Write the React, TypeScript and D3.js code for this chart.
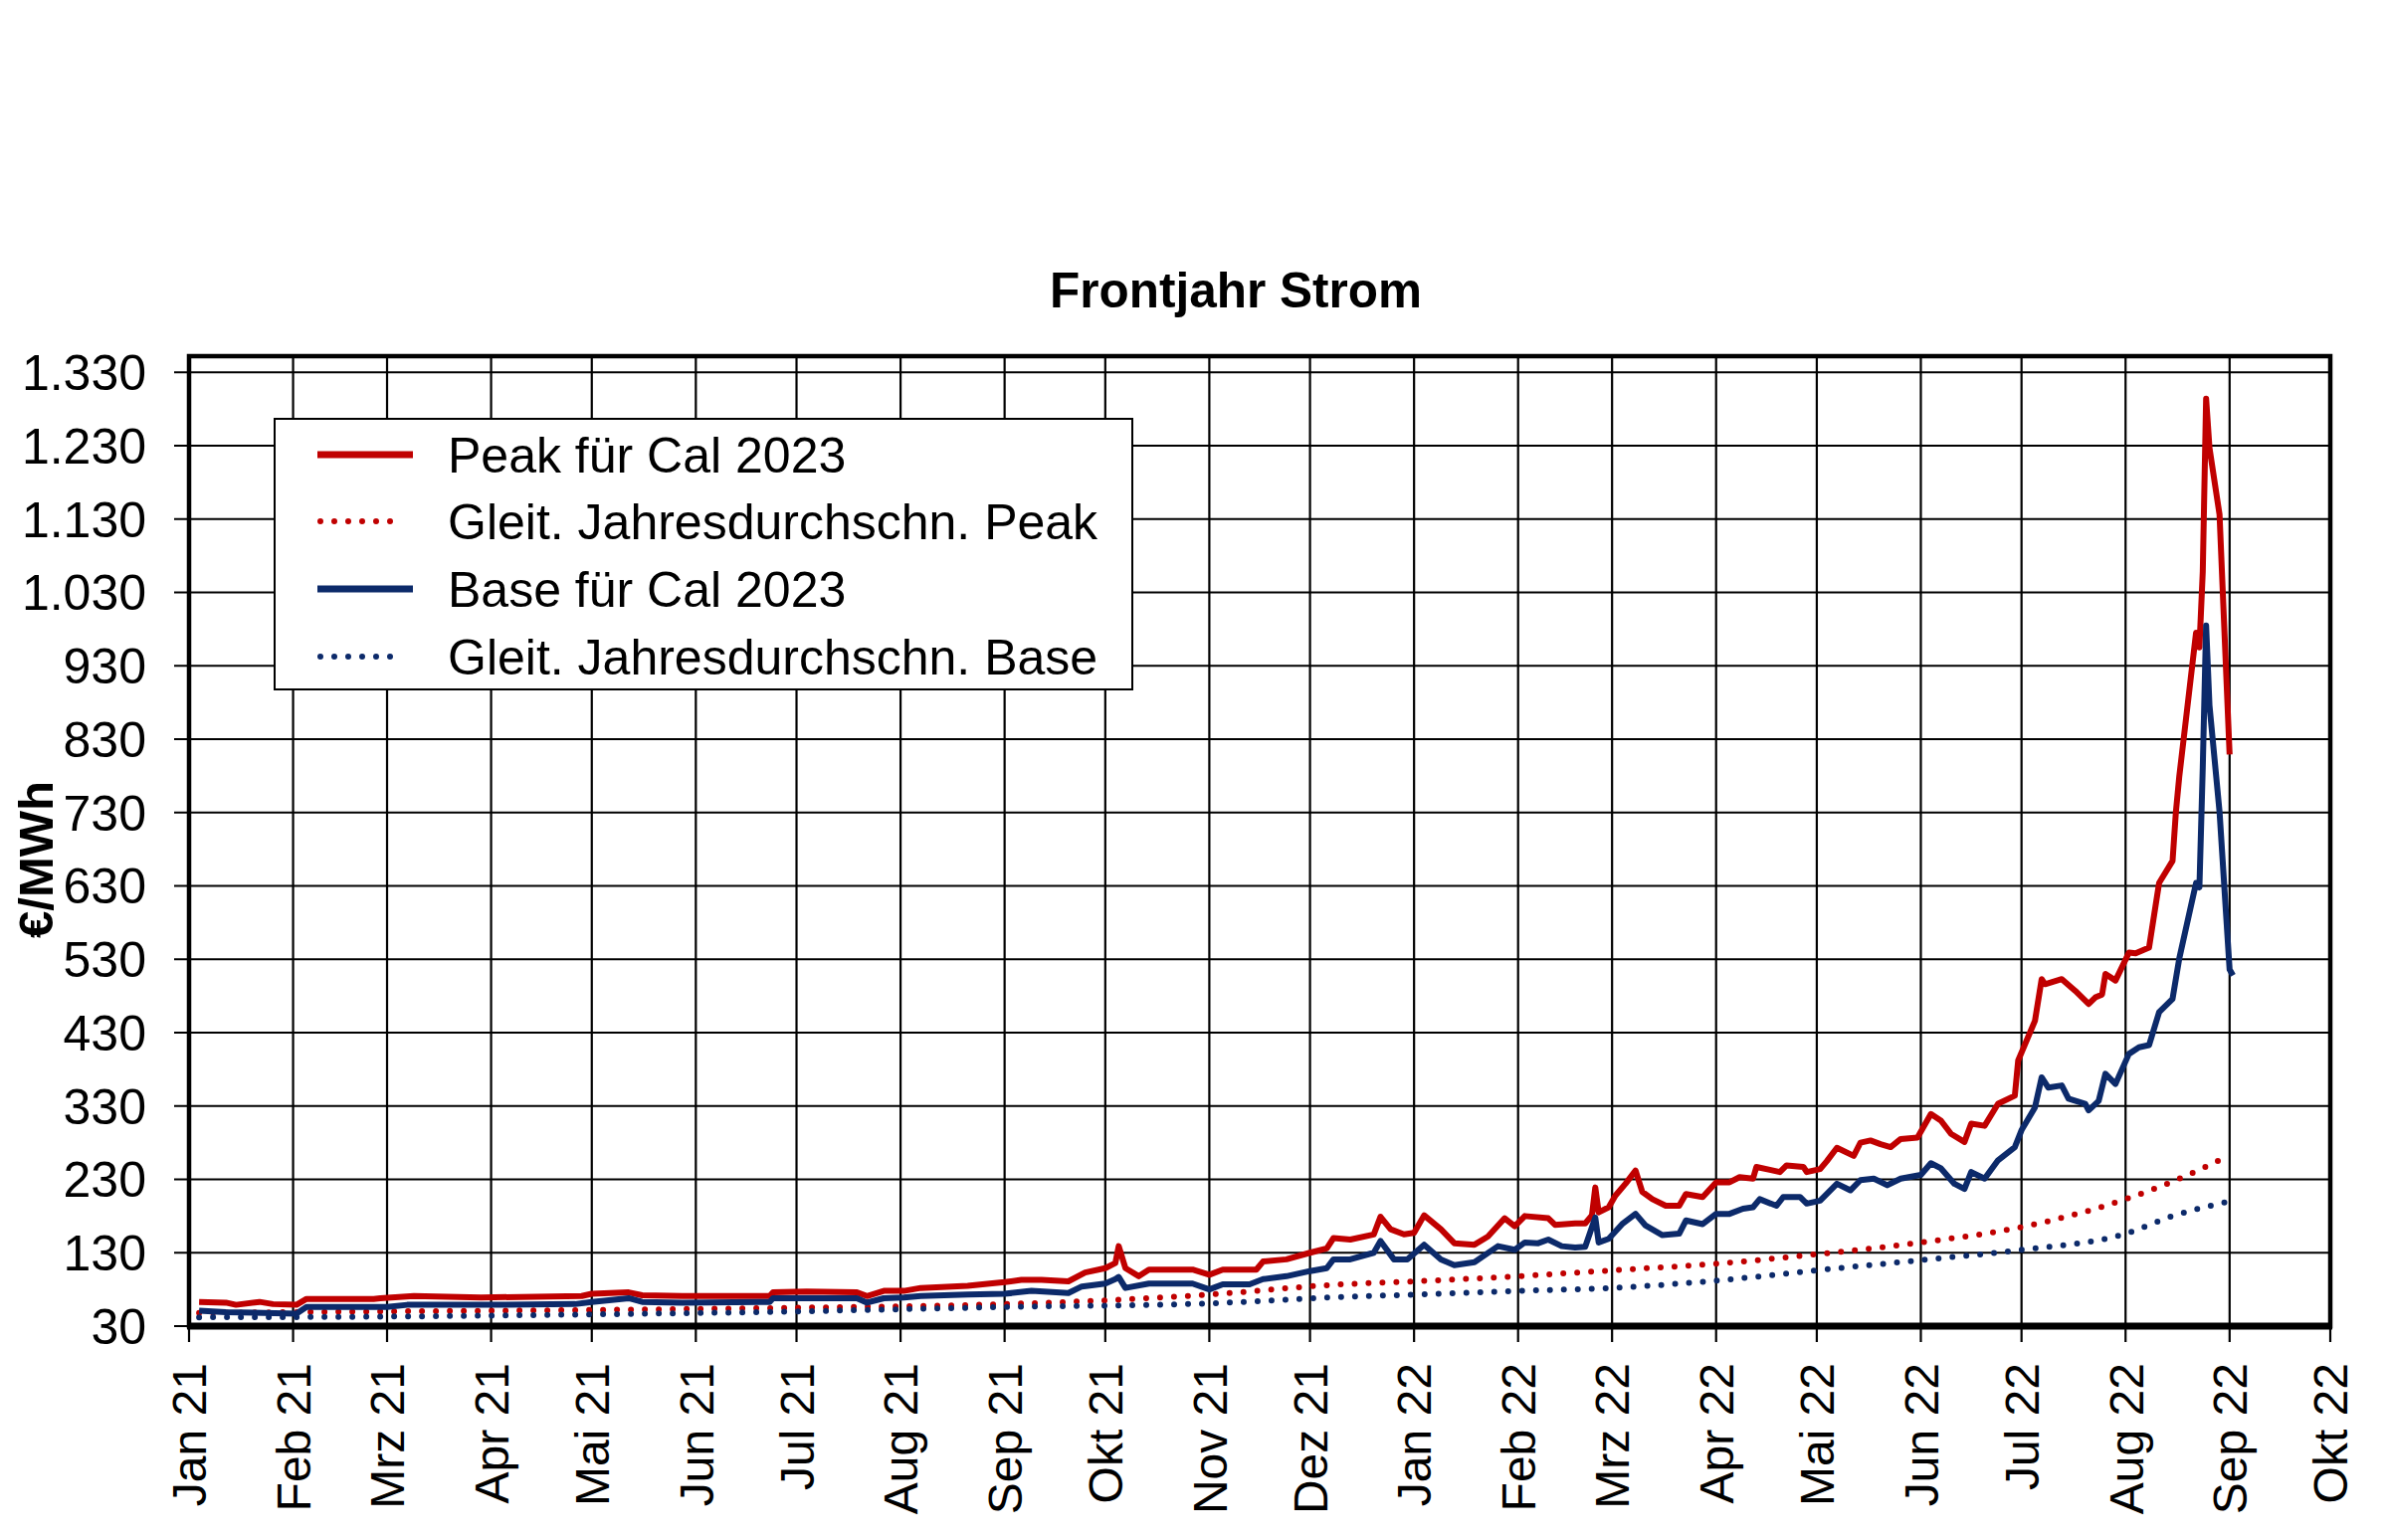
import React from "react";
import * as d3 from "d3";

// Frontjahr Strom – Peak/Base Cal 2023 (€/MWh)
const peak: [string, number][] = [
    ["2021-01-04", 63], ["2021-01-12", 62], ["2021-01-15", 59], ["2021-01-22", 63], ["2021-01-26", 60],
    ["2021-02-02", 59], ["2021-02-05", 67], ["2021-02-25", 67], ["2021-02-27", 68], ["2021-03-09", 71],
    ["2021-03-29", 69], ["2021-04-28", 71], ["2021-05-01", 74], ["2021-05-12", 76], ["2021-05-16", 72],
    ["2021-05-28", 71], ["2021-06-23", 71], ["2021-06-24", 76], ["2021-07-04", 77], ["2021-07-19", 76],
    ["2021-07-22", 71], ["2021-07-27", 78], ["2021-08-02", 78], ["2021-08-07", 82], ["2021-08-21", 85],
    ["2021-09-01", 90], ["2021-09-06", 93], ["2021-09-12", 93], ["2021-09-20", 91], ["2021-09-25", 103],
    ["2021-10-01", 109], ["2021-10-04", 116], ["2021-10-05", 139], ["2021-10-07", 109], ["2021-10-11", 98],
    ["2021-10-14", 107], ["2021-10-27", 107], ["2021-11-01", 100], ["2021-11-05", 107], ["2021-11-15", 107],
    ["2021-11-17", 118], ["2021-11-24", 121], ["2021-12-01", 130], ["2021-12-06", 136], ["2021-12-08", 150],
    ["2021-12-13", 148], ["2021-12-20", 155], ["2021-12-22", 179], ["2021-12-25", 162], ["2021-12-29", 155],
    ["2022-01-01", 157], ["2022-01-04", 181], ["2022-01-09", 162], ["2022-01-13", 143], ["2022-01-19", 141],
    ["2022-01-23", 152], ["2022-01-28", 177], ["2022-01-31", 166], ["2022-02-03", 180], ["2022-02-10", 177],
    ["2022-02-12", 168], ["2022-02-18", 170], ["2022-02-21", 170], ["2022-02-23", 181], ["2022-02-24", 219],
    ["2022-02-25", 185], ["2022-02-28", 192], ["2022-03-02", 208], ["2022-03-05", 224], ["2022-03-08", 242],
    ["2022-03-10", 213], ["2022-03-13", 203], ["2022-03-17", 194], ["2022-03-21", 194], ["2022-03-23", 210],
    ["2022-03-28", 206], ["2022-04-01", 226], ["2022-04-05", 226], ["2022-04-08", 233], ["2022-04-12", 231],
    ["2022-04-13", 247], ["2022-04-17", 243], ["2022-04-20", 240], ["2022-04-22", 249], ["2022-04-27", 247],
    ["2022-04-28", 240], ["2022-05-02", 244], ["2022-05-04", 255], ["2022-05-07", 273], ["2022-05-12", 262],
    ["2022-05-14", 280], ["2022-05-17", 283], ["2022-05-20", 278], ["2022-05-23", 274], ["2022-05-26", 285],
    ["2022-05-31", 287], ["2022-06-04", 319], ["2022-06-07", 310], ["2022-06-10", 292], ["2022-06-14", 281],
    ["2022-06-16", 306], ["2022-06-20", 303], ["2022-06-24", 333], ["2022-06-29", 344], ["2022-06-30", 392],
    ["2022-07-05", 446], ["2022-07-07", 503], ["2022-07-08", 496], ["2022-07-13", 503], ["2022-07-17", 487],
    ["2022-07-21", 469], ["2022-07-23", 478], ["2022-07-25", 482], ["2022-07-26", 510], ["2022-07-29", 501],
    ["2022-08-02", 539], ["2022-08-04", 538], ["2022-08-08", 546], ["2022-08-11", 634], ["2022-08-15", 664],
    ["2022-08-16", 731], ["2022-08-17", 779], ["2022-08-22", 975], ["2022-08-23", 955], ["2022-08-24", 1058],
    ["2022-08-25", 1294], ["2022-08-26", 1227], ["2022-08-29", 1136], ["2022-09-01", 809],
];

const base: [string, number][] = [
    ["2021-01-04", 51], ["2021-01-12", 49], ["2021-02-02", 47], ["2021-02-05", 56], ["2021-03-01", 56],
    ["2021-03-07", 59], ["2021-04-01", 59], ["2021-04-26", 60], ["2021-05-01", 63], ["2021-05-12", 68],
    ["2021-05-16", 63], ["2021-05-28", 62], ["2021-06-23", 63], ["2021-06-24", 68], ["2021-07-19", 68],
    ["2021-07-22", 62], ["2021-07-27", 68], ["2021-08-02", 69], ["2021-08-07", 71], ["2021-08-21", 73],
    ["2021-09-01", 74], ["2021-09-09", 78], ["2021-09-20", 75], ["2021-09-24", 84], ["2021-10-01", 88],
    ["2021-10-04", 94], ["2021-10-05", 97], ["2021-10-07", 82], ["2021-10-14", 88], ["2021-10-27", 88],
    ["2021-11-01", 80], ["2021-11-05", 87], ["2021-11-13", 87], ["2021-11-17", 94], ["2021-11-24", 98],
    ["2021-12-01", 105], ["2021-12-06", 109], ["2021-12-08", 121], ["2021-12-13", 121], ["2021-12-20", 130],
    ["2021-12-22", 146], ["2021-12-26", 121], ["2021-12-30", 121], ["2022-01-04", 141], ["2022-01-09", 121],
    ["2022-01-13", 113], ["2022-01-19", 117], ["2022-01-26", 139], ["2022-01-31", 134], ["2022-02-03", 144],
    ["2022-02-07", 143], ["2022-02-10", 148], ["2022-02-14", 139], ["2022-02-18", 137], ["2022-02-21", 138],
    ["2022-02-24", 178], ["2022-02-25", 144], ["2022-02-28", 149], ["2022-03-04", 169], ["2022-03-08", 183],
    ["2022-03-11", 167], ["2022-03-16", 154], ["2022-03-21", 156], ["2022-03-23", 174], ["2022-03-28", 169],
    ["2022-04-01", 183], ["2022-04-05", 183], ["2022-04-09", 190], ["2022-04-12", 192], ["2022-04-14", 203],
    ["2022-04-19", 194], ["2022-04-21", 206], ["2022-04-26", 206], ["2022-04-28", 197], ["2022-05-02", 201],
    ["2022-05-07", 224], ["2022-05-11", 215], ["2022-05-14", 229], ["2022-05-18", 231], ["2022-05-22", 222],
    ["2022-05-26", 231], ["2022-06-01", 236], ["2022-06-04", 252], ["2022-06-07", 245], ["2022-06-11", 224],
    ["2022-06-14", 217], ["2022-06-16", 240], ["2022-06-20", 231], ["2022-06-24", 256], ["2022-06-29", 274],
    ["2022-07-01", 297], ["2022-07-05", 328], ["2022-07-07", 369], ["2022-07-09", 355], ["2022-07-13", 358],
    ["2022-07-15", 340], ["2022-07-20", 333], ["2022-07-21", 324], ["2022-07-24", 337], ["2022-07-26", 374],
    ["2022-07-29", 360], ["2022-08-02", 401], ["2022-08-05", 410], ["2022-08-08", 413], ["2022-08-11", 458],
    ["2022-08-15", 476], ["2022-08-17", 531], ["2022-08-22", 634], ["2022-08-23", 628], ["2022-08-24", 791],
    ["2022-08-25", 985], ["2022-08-26", 876], ["2022-08-29", 731], ["2022-09-01", 516], ["2022-09-02", 508],
];

const peakAvg: [string, number][] = [
    ["2021-01-04", 48], ["2021-03-01", 50], ["2021-05-01", 52], ["2021-07-01", 55], ["2021-08-01", 57],
    ["2021-09-01", 60], ["2021-11-01", 73], ["2021-12-07", 86], ["2022-01-01", 91], ["2022-02-01", 98],
    ["2022-03-01", 106], ["2022-04-01", 115], ["2022-05-01", 128], ["2022-06-01", 144], ["2022-07-01", 165],
    ["2022-08-01", 203], ["2022-08-15", 227], ["2022-09-01", 263],
];

const baseAvg: [string, number][] = [
    ["2021-01-04", 42], ["2021-03-01", 43], ["2021-05-01", 46], ["2021-07-01", 50], ["2021-08-01", 53],
    ["2021-09-01", 56], ["2021-11-01", 61], ["2021-12-07", 69], ["2022-01-01", 73], ["2022-02-01", 78],
    ["2022-03-01", 82], ["2022-04-01", 92], ["2022-05-01", 106], ["2022-06-01", 120], ["2022-07-01", 134],
    ["2022-08-01", 156], ["2022-08-15", 180], ["2022-09-01", 200],
];

const monthNames = ["Jan", "Feb", "Mrz", "Apr", "Mai", "Jun", "Jul", "Aug", "Sep", "Okt", "Nov", "Dez"];
const yTicks = d3.range(30, 1331, 100);

const legendItems = [
    { label: "Peak für Cal 2023", color: "#c00000", dotted: false },
    { label: "Gleit. Jahresdurchschn. Peak", color: "#c00000", dotted: true },
    { label: "Base für Cal 2023", color: "#0c2a6a", dotted: false },
    { label: "Gleit. Jahresdurchschn. Base", color: "#0c2a6a", dotted: true },
];

const W = 2400;
const H = 1548;
const plot = { left: 190, right: 2342, top: 358, bottom: 1333 };
const font = "'Liberation Sans', Arial, sans-serif";

const parse = d3.utcParse("%Y-%m-%d");
const de = d3.formatLocale({ decimal: ",", thousands: ".", grouping: [3], currency: ["", " €"] });
const fmtY = de.format(",d");

const App: React.FC = () => {
    const x = d3
        .scaleUtc()
        .domain([Date.UTC(2021, 0, 1), Date.UTC(2022, 9, 1)])
        .range([plot.left, plot.right]);
    const y = d3.scaleLinear().domain([30, 1352]).range([plot.bottom, plot.top]);

    const months = d3.utcMonth.range(new Date(Date.UTC(2021, 0, 1)), new Date(Date.UTC(2022, 9, 2)));
    const monthLabel = (d: Date) =>
        `${monthNames[d.getUTCMonth()]} ${String(d.getUTCFullYear()).slice(2)}`;

    const line = d3
        .line<[string, number]>()
        .x((d) => x(parse(d[0]) as Date))
        .y((d) => y(d[1]));
    const smooth = d3
        .line<[string, number]>()
        .x((d) => x(parse(d[0]) as Date))
        .y((d) => y(d[1]))
        .curve(d3.curveMonotoneX);

    const legend = { x: 276, y: 421, w: 862, h: 272, rows: [457, 524, 592, 660] };

    return (
        <svg
            width={W}
            height={H}
            style={{ position: "absolute", left: 0, top: 0, background: "#fff" }}
            fontFamily={font}
        >
            <rect width={W} height={H} fill="#fff" />
            <text x={1242} y={309} textAnchor="middle" fontSize={49.5} fontWeight="bold">
                Frontjahr Strom
            </text>

            {/* grid */}
            {yTicks.map((t) => (
                <line key={`gy${t}`} x1={plot.left - 15} x2={plot.right} y1={y(t)} y2={y(t)} stroke="#000" strokeWidth={2.2} />
            ))}
            {months.map((m) => (
                <line key={`gx${+m}`} x1={x(m)} x2={x(m)} y1={plot.top} y2={plot.bottom + 16} stroke="#000" strokeWidth={2.2} />
            ))}

            {/* moving averages */}
            <path d={smooth(peakAvg) || ""} fill="none" stroke="#c00000" strokeWidth={6} strokeLinecap="round" strokeDasharray="0 14" />
            <path d={smooth(baseAvg) || ""} fill="none" stroke="#0c2a6a" strokeWidth={6} strokeLinecap="round" strokeDasharray="0 14" />

            {/* prices */}
            <path d={line(peak) || ""} fill="none" stroke="#c00000" strokeWidth={6} strokeLinejoin="round" />
            <path d={line(base) || ""} fill="none" stroke="#0c2a6a" strokeWidth={6} strokeLinejoin="round" />

            {/* frame */}
            <rect
                x={plot.left}
                y={plot.top}
                width={plot.right - plot.left}
                height={plot.bottom - plot.top}
                fill="none"
                stroke="#000"
                strokeWidth={4.5}
            />
            <line x1={plot.left - 2} x2={plot.right + 2} y1={plot.bottom} y2={plot.bottom} stroke="#000" strokeWidth={7} />

            {/* y axis labels */}
            {yTicks.map((t) => (
                <text key={`ly${t}`} x={147} y={y(t)} dy="0.36em" textAnchor="end" fontSize={50}>
                    {fmtY(t)}
                </text>
            ))}
            <text
                transform="translate(35,864) rotate(-90)"
                textAnchor="middle"
                dy="0.36em"
                fontSize={49}
                fontWeight="bold"
            >
                €/MWh
            </text>

            {/* x axis labels */}
            {months.map((m) => (
                <text
                    key={`lx${+m}`}
                    transform={`translate(${x(m)},1370) rotate(-90)`}
                    textAnchor="end"
                    dy="0.36em"
                    fontSize={48}
                >
                    {monthLabel(m)}
                </text>
            ))}

            {/* legend */}
            <rect x={legend.x} y={legend.y} width={legend.w} height={legend.h} fill="#fff" stroke="#000" strokeWidth={2} />
            {legendItems.map((it, i) => (
                <g key={it.label}>
                    {it.dotted ? (
                        <line
                            x1={322}
                            x2={406}
                            y1={legend.rows[i]}
                            y2={legend.rows[i]}
                            stroke={it.color}
                            strokeWidth={6}
                            strokeLinecap="round"
                            strokeDasharray="0 14"
                        />
                    ) : (
                        <line x1={319} x2={415} y1={legend.rows[i]} y2={legend.rows[i]} stroke={it.color} strokeWidth={7} />
                    )}
                    <text x={450} y={legend.rows[i]} dy="0.36em" fontSize={50}>
                        {it.label}
                    </text>
                </g>
            ))}
        </svg>
    );
};

export default App;
